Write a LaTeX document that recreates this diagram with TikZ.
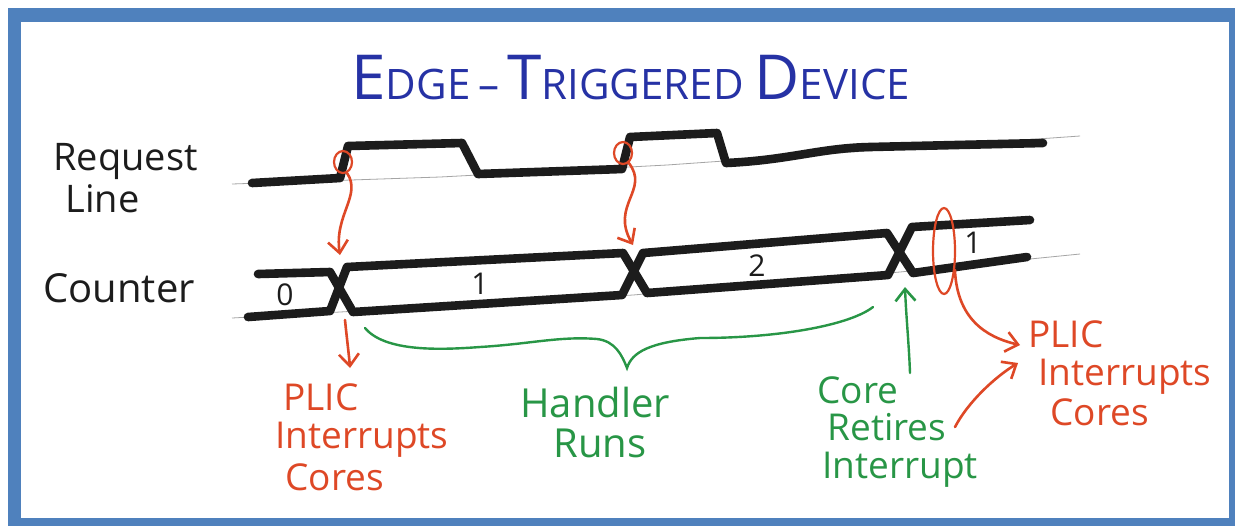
\documentclass[tikz,border=0pt]{standalone}
\usepackage{fontspec}
\setmainfont{Open Sans}
\usetikzlibrary{arrows.meta,shapes.geometric}

\definecolor{frameblue}{RGB}{79,129,189}
\definecolor{inkblack}{RGB}{28,28,28}
\definecolor{guidegray}{RGB}{165,165,165}
\definecolor{penblue}{RGB}{38,50,165}
\definecolor{penred}{RGB}{222,72,38}
\definecolor{pengreen}{RGB}{40,150,70}

\newcommand\ttlbig{\fontsize{31}{34}\selectfont}
\newcommand\ttlsmall{\fontsize{21}{24}\selectfont}

\begin{document}
\begin{tikzpicture}[x=0.5pt,y=-0.5pt,
  sig/.style={draw=inkblack, line width=4.3pt, line cap=round, line join=round},
  guide/.style={draw=guidegray, line width=0.4pt},
  penarrow/.style={-{Straight Barb[length=6pt,width=10pt,line width=1.3pt]}},
  redpen/.style={draw=penred, line width=1.3pt, line cap=round},
  greenpen/.style={draw=pengreen, line width=1.2pt, line cap=round},
  lbl/.style={anchor=base west, inner sep=0pt},
  blacktxt/.style={lbl, text=inkblack, font=\fontsize{19}{21}\selectfont},
  digit/.style={anchor=center, inner sep=0pt, text=inkblack, font=\fontsize{15}{16}\selectfont},
  redtxt/.style={lbl, text=penred, font=\fontsize{18.5}{20}\selectfont},
  greentxt/.style={lbl, text=pengreen, font=\fontsize{18.5}{20}\selectfont},
  loop/.style={draw=penred, line width=1.1pt, ellipse, inner sep=0pt}]

\useasboundingbox (0,0) rectangle (1235,526);
% page and frame
\fill[white] (0,0) rectangle (1235,526);
\fill[frameblue] (8,8) rectangle (1235,526);
\fill[white] (21,22) rectangle (1229,518);

% title
\node[lbl, text=penblue] (title) at (351,99)
  {\ttlbig E\ttlsmall DGE\hspace{4pt}–\hspace{4pt}\ttlbig T\ttlsmall RIGGERED \ttlbig D\ttlsmall EVICE};

% row labels
\node[blacktxt] (reqA) at (53,170) {Request};
\node[blacktxt] (reqB) at (65,212) {Line};
\node[blacktxt, font=\fontsize{20}{22}\selectfont] (cnt) at (43,302) {Counter};

% faint guide lines
\draw[guide] (232,184) -- (440,177) -- (667,165) -- (1080,136);
\draw[guide] (232,318) -- (340,312) -- (633,295) -- (900,272) -- (1080,254);

% request line waveform
\draw[sig] (252,183) -- (340,178) -- (348,146) -- (462,143) -- (478,174) -- (622,169)
  -- (630,137) -- (717,133) -- (726,163) .. controls (790,160) and (820,148) .. (870,147) -- (1043,143);

% counter bus: two zig-zag strokes forming the crossings
\draw[sig] (258,274) -- (330,272) -- (353,312) -- (622,295) -- (643,253) -- (887,233) -- (913,273) -- (1027,257);
\draw[sig] (248,317) -- (330,311) -- (347,267) -- (623,253) -- (647,293) -- (888,275) -- (912,227) -- (1030,220);

% counter values
\node[digit] (v0) at (285,295) {0};
\node[digit] (v1) at (480,284) {1};
\node[digit] (v2) at (757,266) {2};
\node[digit] (v3) at (973,243) {1};

% rising-edge markers and the loop round the new value
\node[loop, minimum width=9pt, minimum height=11pt] (edgeA) at (343,162) {};
\node[loop, minimum width=9pt, minimum height=11pt] (edgeB) at (623,153) {};
\node[loop, minimum width=11pt, minimum height=43pt] (loopC) at (944,251) {};

% arrow targets
\coordinate (tipA) at (340,255);
\coordinate (tipB) at (633,245);
\coordinate (plicAstart) at (345,320);
\coordinate (plicAtip) at (350,368);
\coordinate (retStart) at (910,373);
\coordinate (retTip) at (905,287);
\coordinate (plicBtip) at (1020,345);
\coordinate (intStart) at (955,427);
\coordinate (intTip) at (1018,363);
\coordinate (braceL) at (365,328);
\coordinate (braceM) at (627,368);
\coordinate (braceR) at (873,307);

% red connectors
\draw[redpen, penarrow] (edgeA.-70) .. controls (362,195) and (334,215) .. (tipA);
\draw[redpen, penarrow] (edgeB.-60) .. controls (650,190) and (610,205) .. (tipB);
\draw[redpen, penarrow] (plicAstart) .. controls (347,340) and (349,355) .. (plicAtip);
\draw[redpen, penarrow] (loopC.-60) .. controls (957,318) and (985,337) .. (plicBtip);
\draw[redpen, penarrow] (intStart) .. controls (968,402) and (995,377) .. (intTip);

% green connectors
\draw[greenpen, penarrow] (retStart) .. controls (909,345) and (906,315) .. (retTip);
\draw[greenpen] (braceL) .. controls (385,352) and (440,350) .. (480,347)
  .. controls (530,344) and (560,336) .. (597,339)
  .. controls (615,341) and (622,355) .. (braceM)
  .. controls (632,352) and (650,342) .. (700,338)
  .. controls (780,338) and (850,325) .. (braceR);

% annotations
\node[redtxt] (plicA1) at (283,410) {PLIC};
\node[redtxt] (plicA2) at (275,448) {Interrupts};
\node[redtxt] (plicA3) at (285,490) {Cores};

\node[greentxt, font=\fontsize{20}{22}\selectfont] (handA) at (520,417) {Handler};
\node[greentxt, font=\fontsize{20}{22}\selectfont] (handB) at (553,457) {Runs};

\node[greentxt] (coreA) at (817,403) {Core};
\node[greentxt] (coreB) at (827,440) {Retires};
\node[greentxt] (coreC) at (822,478) {Interrupt};

\node[redtxt] (plicB1) at (1028,347) {PLIC};
\node[redtxt] (plicB2) at (1038,385) {Interrupts};
\node[redtxt] (plicB3) at (1050,425) {Cores};
\end{tikzpicture}
\end{document}
